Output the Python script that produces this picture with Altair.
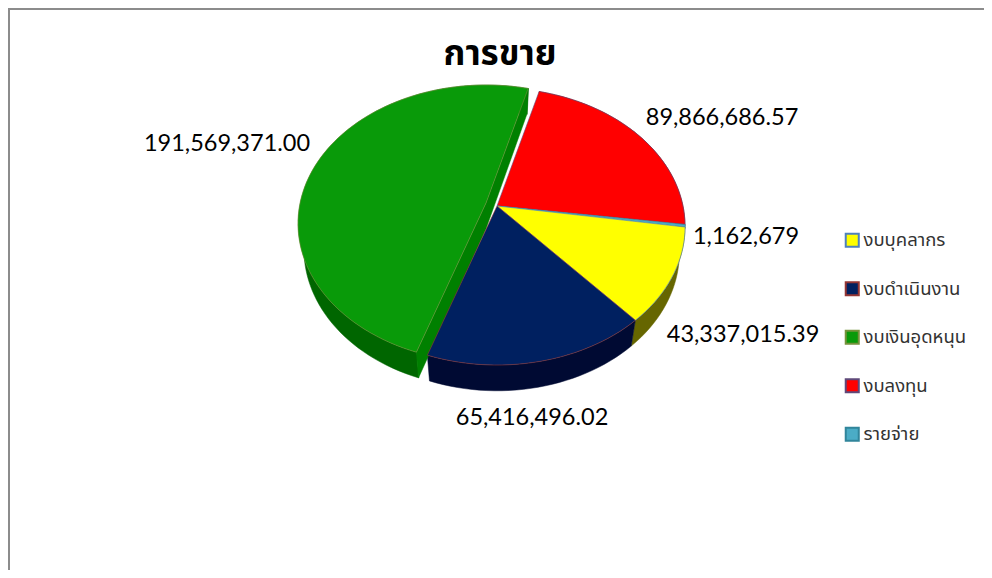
import math
import altair as alt
import pandas as pd

names = ["งบบุคลากร", "งบดำเนินงาน", "งบเงินอุดหนุน", "งบลงทุน", "รายจ่าย"]
values = [43337015.39, 65416496.02, 191569371.00, 89866686.57, 1162679.0]
labels = ["43,337,015.39", "65,416,496.02", "191,569,371.00", "89,866,686.57", "1,162,679"]
fills = ["#ffff00", "#002060", "#099a09", "#ff0000", "#4bacc6"]
strokes = ["#4f81bd", "#943634", "#76923c", "#5f497a", "#31859b"]
walls = ["#666600", "#000a33", "#006600", "#990000", "#1f5f70"]

# clockwise order on the pie, starting at the red slice's leading edge
pie_order = [3, 4, 0, 1, 2]
START_DEG = 15.0
PERSPECTIVE = 0.148
DEPTH = 0.19
SHRINK = 0.97
EXPLODED = 2
EXPLODE = (-0.059, -0.022)


def project(theta):
    X, Y = math.sin(theta), -math.cos(theta)
    w = 1 - PERSPECTIVE * Y
    return X / w, Y / w


total = sum(values)
top_rows, wall_rows = [], []
angle = START_DEG
for idx in pie_order:
    span = values[idx] / total * 360
    steps = max(2, int(span / 2))
    rim = [project(math.radians(angle + span * k / steps)) for k in range(steps + 1)]
    ox, oy = EXPLODE if idx == EXPLODED else (0.0, 0.0)
    ring = [(0.0, 0.0)] + rim + [(0.0, 0.0)]
    for i, (x, y) in enumerate(ring):
        top_rows.append({"name": names[idx], "i": i, "x": x + ox, "y": y + oy})
    lower = [(x * SHRINK, y + DEPTH) for x, y in rim]
    outline = rim + lower[::-1] + rim[:1]
    for i, (x, y) in enumerate(outline):
        wall_rows.append({"name": names[idx], "part": "rim", "i": i, "x": x + ox * SHRINK, "y": y + oy})
    if idx == EXPLODED:
        cut = [rim[-1], (0.0, 0.0), rim[0], lower[0], (0.0, DEPTH), lower[-1], rim[-1]]
        for i, (x, y) in enumerate(cut):
            wall_rows.append({"name": names[idx], "part": "cut", "i": i, "x": x + ox, "y": y + oy})
    angle += span

top_df = pd.DataFrame(top_rows)
wall_df = pd.DataFrame(wall_rows)
wall_df["key"] = wall_df["name"] + wall_df["part"]
table = pd.DataFrame({"name": names, "label": labels})

xs = alt.Scale(domain=[-1, 1], range=[303, 675], nice=False, zero=False)
ys = alt.Scale(domain=[-1, 1], range=[62.5, 333.5], nice=False, zero=False)
fill_scale = alt.Scale(domain=names, range=fills)
stroke_scale = alt.Scale(domain=names, range=strokes)

rest = top_df[top_df["name"] != names[EXPLODED]]
green = top_df[top_df["name"] == names[EXPLODED]]


def top_layer(df):
    layers = []
    for n in df["name"].unique():
        idx = names.index(n)
        layers.append(
            alt.Chart(df[df["name"] == n]).mark_line(
                strokeWidth=0.6, interpolate="linear", fill=fills[idx], stroke=strokes[idx]
            ).encode(
                x=alt.X("x:Q", scale=xs, axis=None),
                y=alt.Y("y:Q", scale=ys, axis=None),
                order="i:Q",
            )
        )
    return layers


def wall_layers():
    layers = []
    for key in wall_df["key"].unique():
        sub = wall_df[wall_df["key"] == key]
        idx = names.index(sub["name"].iloc[0])
        color = "#008000" if key.endswith("cut") else walls[idx]
        layers.append(
            alt.Chart(sub).mark_line(
                strokeWidth=0.5, interpolate="linear", fill=color, stroke=color
            ).encode(
                x=alt.X("x:Q", scale=xs, axis=None),
                y=alt.Y("y:Q", scale=ys, axis=None),
                order="i:Q",
            )
        )
    return layers


legend_layer = alt.Chart(table).mark_square(size=0, opacity=1, filled=True).encode(
    x=alt.value(0),
    y=alt.value(0),
    fill=alt.Fill(
        "name:N",
        scale=fill_scale,
        title=None,
        legend=alt.Legend(
            orient="none", legendX=835, legendY=223, symbolType="square", symbolSize=170,
            symbolStrokeWidth=2, symbolOpacity=1, labelFontSize=18.5, labelColor="#333333",
            labelFont="Noto Sans Thai", rowPadding=26.5, labelOffset=2, padding=0, title=None,
        ),
    ),
    stroke=alt.Stroke("name:N", scale=stroke_scale, title=None),
)

label_pos = {
    labels[0]: (735, 327),
    labels[1]: (524, 410),
    labels[2]: (219, 136),
    labels[3]: (714, 110),
    labels[4]: (738, 229),
}
label_layers = [
    alt.Chart(table[table["label"] == lab]).mark_text(font="Lato", fontSize=23.5, color="#000000").encode(
        x=alt.value(px), y=alt.value(py), text="label:N"
    )
    for lab, (px, py) in label_pos.items()
]

frame_top = alt.Chart(table).mark_rule(color="#8c8c8c", strokeWidth=2).encode(
    x=alt.value(0), x2=alt.value(976), y=alt.value(1)
)
frame_left = alt.Chart(table).mark_rule(color="#8c8c8c", strokeWidth=2).encode(
    x=alt.value(1), y=alt.value(0), y2=alt.value(562)
)

draw_order = wall_layers() + top_layer(rest) + top_layer(green)

chart = alt.layer(
    frame_top, frame_left, *draw_order, legend_layer, *label_layers
).resolve_scale(x="independent", y="independent").properties(
    width=976,
    height=562,
    padding=0,
    autosize=alt.AutoSizeParams(type="none"),
    title=alt.TitleParams(
        "การขาย", fontSize=35, fontWeight="bold", font="Noto Sans Thai", color="#000000",
        anchor="middle", offset=-68, dx=4,
    ),
).configure_view(stroke=None)

chart.save("out.html", embed_options={"renderer": "svg", "actions": False})
